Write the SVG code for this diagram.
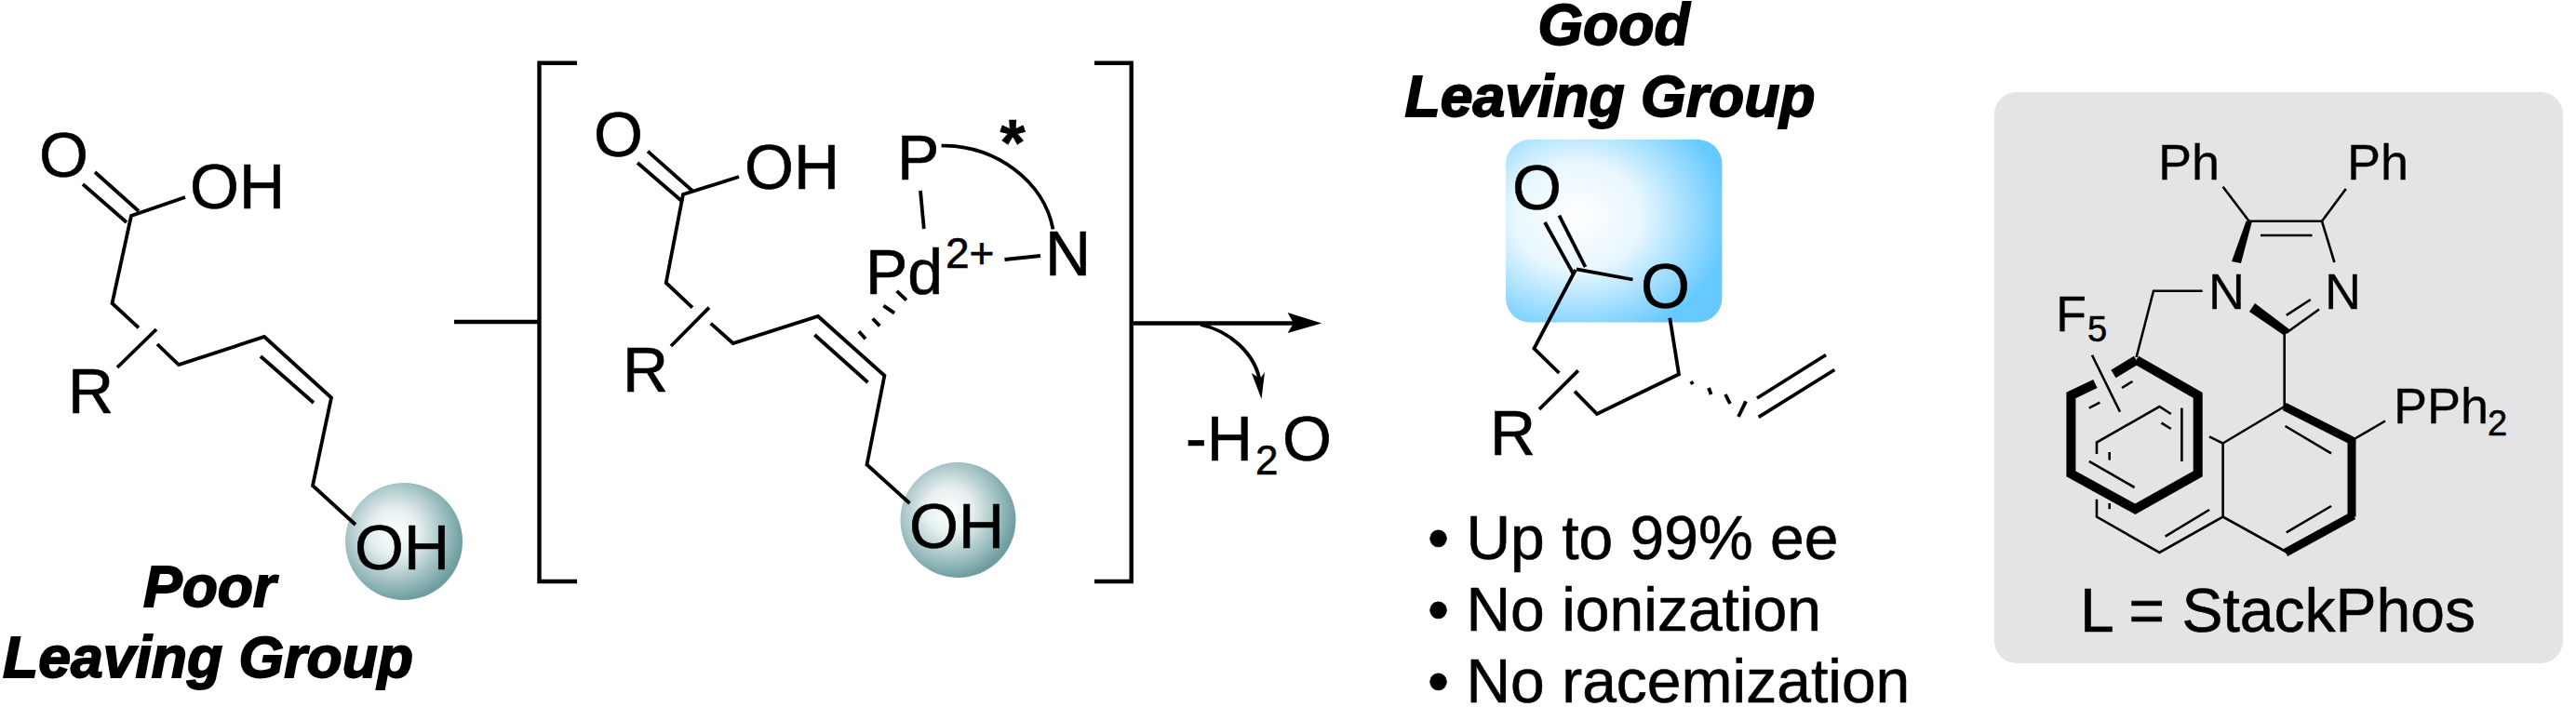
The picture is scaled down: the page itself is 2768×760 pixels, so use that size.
<svg xmlns="http://www.w3.org/2000/svg" width="2768" height="760" viewBox="0 0 2768 760">
<style>
text{font-family:"Liberation Sans",Arial,sans-serif;fill:#000;stroke:#000;stroke-width:.6px}
.l{font-size:66px}
.o{font-size:68px}
.s{font-size:54px;stroke-width:.3px}
.h{font-size:62.500px;font-weight:bold;font-style:italic;stroke-width:1.8px}
.m{text-anchor:middle}
line,path,polyline{fill:none;stroke:#000;stroke-width:3.8;stroke-linejoin:miter}
.t line,.t polyline{stroke-width:2.6}
.t .k{stroke-width:9}
.t .k2{stroke-width:10}
.br{stroke-width:4.400}
.head{fill:#000;stroke:none}
</style>
<defs>
<radialGradient id="ball" cx="0.42" cy="0.42" r="0.58"><stop offset="0" stop-color="#fff"/><stop offset="0.35" stop-color="#e6efef"/><stop offset="0.8" stop-color="#94b8ba"/><stop offset="1" stop-color="#6f9ea1"/></radialGradient>
<radialGradient id="blue" cx="0.33" cy="0.42" r="0.7"><stop offset="0" stop-color="#fff"/><stop offset="0.42" stop-color="#e8f7ff"/><stop offset="1" stop-color="#66c9ff"/></radialGradient>
</defs>
<rect width="2768" height="760" fill="#fff"/>
<g id="substrate">
<circle cx="434" cy="582" r="63" fill="url(#ball)"/>
<line x1="89" y1="198" x2="136" y2="239"/><line x1="102" y1="185" x2="149" y2="227"/>
<polyline points="199,212 141,232 120.500,326 149,352.400"/>
<line x1="126" y1="395" x2="168" y2="354"/>
<polyline points="169,370 192,392 284,362 356,427.500 336,522 382,564"/>
<line x1="280" y1="383" x2="337" y2="433"/>
<text class="o" x="42" y="190">O</text><text class="o" x="204" y="224">OH</text><text class="o" x="73" y="444">R</text><text class="o" x="381" y="612">OH</text>
<text class="h" x="154" y="652">Poor</text><text class="h" x="3" y="728">Leaving Group</text>
</g>
<g id="intermediate">
<circle cx="1029.500" cy="559" r="62" fill="url(#ball)"/>
<polyline class="br" points="620,67.700 579.500,67.700 579.500,625 620,625"/>
<polyline class="br" points="1176,67.700 1215.700,67.700 1215.700,625 1176,625"/>
<line x1="685" y1="175" x2="733.600" y2="217"/><line x1="696" y1="162.600" x2="743.800" y2="205"/>
<polyline points="794,190 734,209 715.700,304 744,330.600"/>
<line x1="721" y1="372" x2="762" y2="330.600"/>
<polyline points="763.700,347.600 787.700,369 879,340 950.400,403.800 931.500,499.500 977.500,541"/>
<line x1="875.400" y1="360" x2="932.500" y2="411"/>
<line x1="989" y1="205" x2="992.800" y2="246"/>
<path d="M1011.600,156.600 C1070,156 1122,195 1131.500,246.400"/>
<line x1="1079.500" y1="279" x2="1118" y2="275"/>
<line x1="922.900" y1="356.300" x2="930" y2="364.200"/><line x1="937.700" y1="342.500" x2="945.300" y2="350.400"/><line x1="949.400" y1="328.600" x2="961.100" y2="336.600"/><line x1="963.700" y1="312.800" x2="973.900" y2="322.700"/>
<text class="o" x="638" y="168">O</text><text class="o" x="800" y="203">OH</text><text class="o" x="964" y="193">P</text>
<text class="m" x="1088" y="178" font-size="70" font-weight="bold">*</text>
<text class="o" x="930" y="316">Pd</text><text x="1016" y="288" font-size="46">2+</text><text class="o" x="1123" y="296">N</text>
<text class="o" x="669" y="421">R</text><text class="o" x="977" y="589">OH</text>
</g>
<g id="connectors">
<line class="br" x1="488" y1="346" x2="579" y2="346"/>
<line class="br" x1="1218" y1="347.500" x2="1392" y2="347.500"/>
<polygon class="head" points="1420.300,347.500 1383.600,336 1390,347.500 1383.600,358"/>
<path d="M1290,349 C1320,355 1350,380 1354,412"/>
<polygon class="head" points="1355.500,429 1344.800,401 1354,407 1359,400"/>
<text class="o" x="1274" y="495">-H</text><text x="1349" y="510" font-size="44">2</text><text class="o" x="1378" y="495">O</text>
</g>
<g id="product">
<rect x="1618" y="150" width="232.400" height="196.600" rx="26" fill="url(#blue)"/>
<line x1="1660" y1="239" x2="1690.700" y2="294.700"/><line x1="1675.400" y1="231.700" x2="1703.500" y2="287"/>
<line x1="1694" y1="289.400" x2="1754.500" y2="300.500"/>
<polyline points="1693,290 1648.400,374.700 1675.400,401"/>
<line x1="1654" y1="440" x2="1695.800" y2="398.400"/>
<polyline points="1692,420.700 1716,445 1804,402.300 1794.300,341.700"/>
<line x1="1817" y1="410" x2="1819" y2="413"/><line x1="1836" y1="417" x2="1838.600" y2="424"/><line x1="1854" y1="424" x2="1859" y2="434"/><line x1="1876" y1="431.400" x2="1868" y2="448"/>
<line x1="1888" y1="428" x2="1962" y2="381.500"/><line x1="1889.700" y1="448.400" x2="1971.300" y2="397.500"/>
<text class="o" x="1625" y="225">O</text><text class="o" x="1763" y="331">O</text><text class="o" x="1601" y="489">R</text>
<text class="h m" x="1734" y="48">Good</text><text class="h m" x="1730" y="125">Leaving Group</text>
<text class="l" x="1534" y="601">• Up to 99% ee</text><text class="l" x="1534" y="678">• No ionization</text><text class="l" x="1534" y="755">• No racemization</text>
</g>
<g id="ligand" class="t">
<rect x="2143" y="99" width="611" height="614" rx="24" fill="#e4e4e4"/>
<line x1="2388.600" y1="200.800" x2="2416.700" y2="237.800"/>
<line x1="2416.700" y1="237.800" x2="2495.200" y2="237.800"/>
<line x1="2429" y1="253" x2="2484.500" y2="253"/>
<line x1="2520.800" y1="203" x2="2495" y2="237.800"/>
<line x1="2495" y1="237.800" x2="2508.400" y2="282"/>
<polygon class="head" points="2413.500,237.800 2420,237.800 2408,283 2398,281"/>
<polygon class="head" points="2423,326 2417,335 2455,361 2460,354"/>
<line x1="2456.800" y1="357.800" x2="2492" y2="332.500"/><line x1="2456.800" y1="338.800" x2="2482.800" y2="322"/>
<polyline points="2366.700,312.700 2314,312.700 2295.600,384"/>
<line x1="2248" y1="381.800" x2="2278" y2="442.800"/>
<line class="k2" x1="2271" y1="402" x2="2295.600" y2="387"/>
<polyline class="k2" points="2295.600,387 2361.700,425 2361.700,509.300 2294.400,547.200 2225.400,509.300 2225.400,425 2251.400,412.500"/>
<line x1="2291.500" y1="410" x2="2280" y2="417"/><line x1="2244.800" y1="438.600" x2="2256.400" y2="432.700"/>
<line x1="2344.400" y1="438.600" x2="2344.400" y2="496"/><line x1="2244.800" y1="495.800" x2="2293.600" y2="524"/>
<polyline points="2253,488 2253,475.600 2320.400,437 2332.800,445"/>
<line x1="2322.500" y1="454.600" x2="2332.800" y2="461"/>
<polyline points="2374,469.300 2388.600,476.500 2388.600,555.600"/>
<line x1="2388.600" y1="476.500" x2="2454.700" y2="437"/>
<line x1="2454.700" y1="437" x2="2454.700" y2="360"/>
<line class="k" x1="2454.700" y1="437" x2="2527" y2="473.500"/>
<line x1="2455.500" y1="458" x2="2505" y2="487.400"/>
<line x1="2527" y1="473.500" x2="2563" y2="452.500"/>
<line class="k" x1="2527" y1="470" x2="2527" y2="555.600"/>
<line class="k" x1="2529" y1="554" x2="2456" y2="594"/>
<line x1="2505" y1="544" x2="2456.800" y2="572.400"/>
<polyline points="2458,594 2388.600,555.600 2320.400,594 2253,555.600 2253,536.700"/>
<line x1="2374" y1="548" x2="2326.600" y2="576.600"/>
<line x1="2266.700" y1="486" x2="2266.700" y2="494.600"/><line x1="2266.700" y1="541" x2="2266.700" y2="547.200"/>
<text class="s" x="2319" y="193">Ph</text><text class="s" x="2522" y="193">Ph</text>
<text class="s" x="2373" y="332">N</text><text class="s" x="2498" y="332">N</text>
<text class="s" x="2209" y="356">F</text><text x="2243" y="367" font-size="38">5</text>
<text class="s" x="2572" y="455">PPh</text><text x="2673" y="468" font-size="38">2</text>
<text class="l" x="2235" y="679">L = StackPhos</text>
</g>
</svg>
